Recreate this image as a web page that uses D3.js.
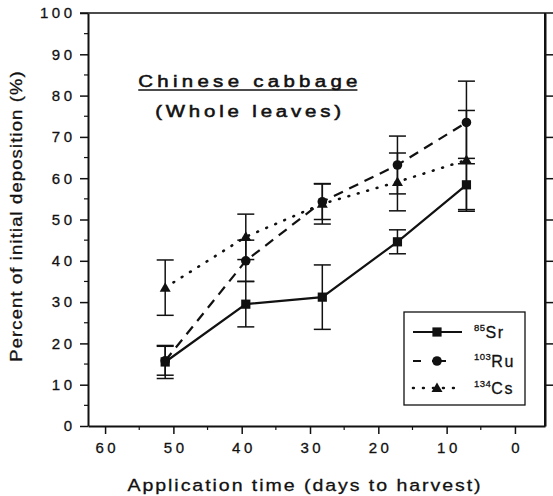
<!DOCTYPE html>
<html>
<head>
<meta charset="utf-8">
<script src="https://cdn.jsdelivr.net/npm/d3@7"></script>
<style>
  body { margin: 0; background: #fff; }
  text { font-family: "Liberation Sans", Arial, sans-serif; fill: #111; stroke: #111; stroke-width: 0.3px; }
</style>
</head>
<body>
<script>
// data (days to harvest, % of initial deposition)
var days = [51.2, 39.4, 28.2, 17.2, 7.1];
var sr = [15.5, 29.5, 31.2, 44.6, 58.4];
var srErr = [4, 5.5, 7.8, 2.9, 6.4];
var ru = [15.8, 40.0, 54.3, 63.2, 73.5];
var ruErr = [3.5, 5, 4.3, 7, 10];
var cs = [33.5, 45.8, 53.8, 59.1, 64.4];
var csErr = [6.7, 5.5, 4.9, 7, 12];
var seriesNames = ["Sr", "Ru", "Cs"];
var seriesMass = ["85", "103", "134"];
var xTicks = [60, 50, 40, 30, 20, 10, 0];
var yTicks = [0, 10, 20, 30, 40, 50, 60, 70, 80, 90, 100];

var width = 553, height = 496;

var svg = d3.select("body")
  .append("svg")
    .attr("width", width)
    .attr("height", height);

// scales
var x = d3.scaleLinear()
  .domain([62.5, -4.4])
  .range([88, 545]);
var y = d3.scaleLinear()
  .domain([0, 100])
  .range([426, 13]);

// frame: top and right lines
svg.append("line")
  .attr("x1", 80).attr("x2", 553)
  .attr("y1", y(100)).attr("y2", y(100))
  .attr("stroke", "#111").attr("stroke-width", 1.5);
svg.append("line")
  .attr("x1", 545).attr("x2", 545)
  .attr("y1", y(100)).attr("y2", y(0))
  .attr("stroke", "#111").attr("stroke-width", 2);

// Y axis (left)
var yAxis = svg.append("g")
  .attr("transform", "translate(" + x.range()[0] + ",0)")
  .call(d3.axisLeft(y).tickValues(yTicks).tickSize(8).tickSizeOuter(0).tickPadding(4.5));
yAxis.selectAll("text")
  .style("font-size", "15px")
  .style("letter-spacing", "3.5px");
// minor ticks at the 5s
yAxis.selectAll(".minor")
  .data(d3.range(5, 100, 10))
  .enter().append("line")
  .attr("x1", -4).attr("x2", 0)
  .attr("y1", function(d) { return y(d); })
  .attr("y2", function(d) { return y(d); })
  .attr("stroke", "#111").attr("stroke-width", 1.2);

// right axis, ticks only
svg.append("g")
  .attr("transform", "translate(545,0)")
  .call(d3.axisRight(y).tickValues(yTicks.slice(1, 10)).tickSize(8).tickSizeOuter(0).tickFormat(""));

// X axis (bottom)
var xAxis = svg.append("g")
  .attr("transform", "translate(0," + y(0) + ")")
  .call(d3.axisBottom(x).tickValues(xTicks).tickSize(8).tickSizeOuter(0).tickPadding(8));
xAxis.selectAll("text")
  .attr("dx", "1.75")
  .style("font-size", "15px")
  .style("letter-spacing", "3.5px");
xAxis.selectAll(".minor")
  .data(d3.range(55, -5, -10))
  .enter().append("line")
  .attr("x1", function(d) { return x(d); })
  .attr("x2", function(d) { return x(d); })
  .attr("y1", 0).attr("y2", 4)
  .attr("stroke", "#111").attr("stroke-width", 1.2);

svg.selectAll(".domain").attr("stroke", "#111").attr("stroke-width", 2);
svg.selectAll(".tick line").attr("stroke", "#111").attr("stroke-width", 1.5);

// axis titles (slightly stretched, the scan uses a wide face)
svg.append("text")
  .attr("transform", "translate(305,491)scale(1.15,1)")
  .attr("text-anchor", "middle")
  .style("font-size", "17px")
  .style("letter-spacing", "1.7px")
  .text("Application time (days to harvest)");
svg.append("text")
  .attr("transform", "translate(22,216)rotate(-90)scale(1.15,1)")
  .attr("text-anchor", "middle")
  .style("font-size", "16px")
  .style("letter-spacing", "1px")
  .text("Percent of initial deposition (%)");

// plot title
var tg = svg.append("g")
  .attr("transform", "translate(250,0)scale(1.2,1)");
var t1 = tg.append("text")
  .attr("x", 0).attr("y", 87)
  .attr("text-anchor", "middle")
  .style("font-size", "17px")
  .style("stroke-width", "0.55px")
  .style("letter-spacing", "3.6px")
  .text("Chinese cabbage");
var tb = t1.node().getBBox();
tg.append("line")
  .attr("x1", tb.x).attr("x2", tb.x + tb.width - 3.6)
  .attr("y1", 90).attr("y2", 90)
  .attr("stroke", "#111").attr("stroke-width", 1.3);
tg.append("text")
  .attr("x", 0).attr("y", 117)
  .attr("text-anchor", "middle")
  .style("font-size", "17px")
  .style("stroke-width", "0.55px")
  .style("letter-spacing", "3.2px")
  .text("(Whole leaves)");

// series setup
var series = [
  {name: "Sr", vals: sr, err: srErr, dash: null, cap: "butt", marker: "square"},
  {name: "Ru", vals: ru, err: ruErr, dash: "10,7", cap: "butt", marker: "circle"},
  {name: "Cs", vals: cs, err: csErr, dash: "0.8,9", cap: "round", marker: "triangle"}
];

var line = d3.line()
  .x(function(d) { return x(d[0]); })
  .y(function(d) { return y(d[1]); });

function drawMarker(g, type, cx, cy) {
  if (type === "square") {
    g.append("rect").attr("x", cx - 4.6).attr("y", cy - 4.6)
      .attr("width", 9.2).attr("height", 9.2).attr("fill", "#111");
  } else if (type === "circle") {
    g.append("circle").attr("cx", cx).attr("cy", cy).attr("r", 4.8).attr("fill", "#111");
  } else {
    g.append("path")
      .attr("d", "M" + cx + "," + (cy - 5.5) + "L" + (cx + 5.5) + "," + (cy + 4) + "L" + (cx - 5.5) + "," + (cy + 4) + "Z")
      .attr("fill", "#111");
  }
}

// error bars first
series.forEach(function(s) {
  var g = svg.append("g");
  s.vals.forEach(function(v, i) {
    var cx = x(days[i]);
    g.append("line")
      .attr("x1", cx).attr("x2", cx)
      .attr("y1", y(v + s.err[i])).attr("y2", y(v - s.err[i]))
      .attr("stroke", "#111").attr("stroke-width", 1.5);
    [v + s.err[i], v - s.err[i]].forEach(function(e) {
      g.append("line")
        .attr("x1", cx - 8.5).attr("x2", cx + 8.5)
        .attr("y1", y(e)).attr("y2", y(e))
        .attr("stroke", "#111").attr("stroke-width", 1.5);
    });
  });
});

// lines and markers
series.forEach(function(s) {
  var pts = days.map(function(d, i) { return [d, s.vals[i]]; });
  svg.append("path")
    .datum(pts)
    .attr("d", line)
    .attr("fill", "none")
    .attr("stroke", "#111")
    .attr("stroke-width", s.name === "Cs" ? 2.6 : 2.2)
    .attr("stroke-linecap", s.cap)
    .attr("stroke-dasharray", s.dash);
  var g = svg.append("g");
  pts.forEach(function(p) { drawMarker(g, s.marker, x(p[0]), y(p[1])); });
});

// legend
var legend = svg.append("g");
legend.append("rect")
  .attr("x", 404).attr("y", 312)
  .attr("width", 121).attr("height", 93)
  .attr("fill", "#fff").attr("stroke", "#111").attr("stroke-width", 1.3);
var legY = [332, 361, 388];
var legEnd = [462, 447, 462];
var legDash = [null, "8,11,14", "0.8,9.2"];
series.forEach(function(s, i) {
  legend.append("line")
    .attr("x1", 413).attr("x2", legEnd[i])
    .attr("y1", legY[i]).attr("y2", legY[i])
    .attr("stroke", "#111").attr("stroke-width", s.name === "Cs" ? 2.6 : 2.2)
    .attr("stroke-linecap", s.cap)
    .attr("stroke-dasharray", legDash[i]);
  drawMarker(legend, s.marker, 437, legY[i]);
  var lt = legend.append("text")
    .attr("x", 474).attr("y", legY[i] + 6)
    .style("font-size", "16px")
    .style("letter-spacing", "1.5px");
  lt.append("tspan")
    .attr("dy", -7)
    .style("font-size", "9.5px")
    .style("letter-spacing", "0.5px")
    .text(seriesMass[i]);
  lt.append("tspan")
    .attr("dy", 7)
    .text(seriesNames[i]);
});
</script>
</body>
</html>
